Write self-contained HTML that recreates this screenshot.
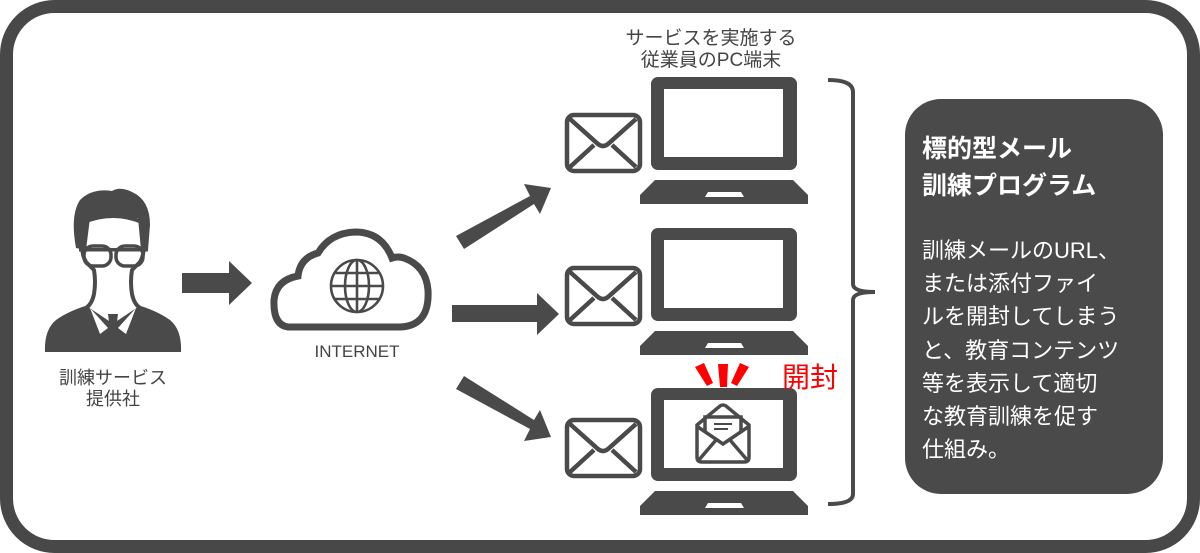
<!DOCTYPE html>
<html><head><meta charset="utf-8"><style>
html,body{margin:0;padding:0;background:#fff;}
svg{display:block;}
text{font-family:"Liberation Sans","Noto Sans CJK JP",sans-serif;}
</style></head><body>
<svg width="1200" height="553" viewBox="0 0 1200 553" xmlns="http://www.w3.org/2000/svg">
<rect x="6.5" y="6.5" width="1187" height="540" rx="48" fill="#fff" stroke="#484848" stroke-width="13"/>
<g fill="#4a4a4a">
<!-- person body -->
<path d="M45 352 Q44 330 56 320 Q70 310 92 304 L113 300 L134 304 Q156 310 170 320 Q182 330 181 352 Z"/>
<!-- face/neck white with outline -->
<path d="M84 238 Q80 252 86 262 L94 270 Q96 282 94 294 Q92 304 86 308 L113 326 L140 308 Q134 304 132 294 Q130 282 132 270 L140 262 Q146 252 142 238 L142 222 Q113 210 84 222 Z" fill="#fff" stroke="#4a4a4a" stroke-width="4" stroke-linejoin="round"/>
<!-- hair -->
<path d="M76 248 Q70 215 80 200 Q92 188 112 191 Q120 186 132 192 Q150 200 150 225 L148 250 L141 250 L138 218 L90 218 L86 250 Z"/>
<!-- glasses -->
<rect x="84" y="246" width="27" height="20" rx="9" fill="none" stroke="#4a4a4a" stroke-width="3.5"/>
<rect x="116" y="246" width="27" height="20" rx="9" fill="none" stroke="#4a4a4a" stroke-width="3.5"/>
<rect x="79" y="248" width="69" height="3.5"/>
<!-- collar + tie -->
<path d="M90 308 L108 328 L100 334 Z M136 308 L118 328 L126 334 Z" fill="#fff"/>
<path d="M108 314 L118 314 L117 322 L120 345 L113 352 L106 345 L109 322 Z"/>
<!-- arrow person->cloud -->
<path d="M182 273 L229 273 L229 261 L252 283 L229 305 L229 293 L182 293 Z"/>
<!-- cloud -->
<path d="M288 327 Q273 325 274 300 Q276 280 298 276 Q300 258 318 253 Q330 233 355 232 Q382 232 392 258 Q398 256 404 258 Q426 266 428 290 Q430 326 400 327 Z" fill="none" stroke="#4a4a4a" stroke-width="7"/>
<g fill="none" stroke="#4a4a4a" stroke-width="2.6">
<circle cx="357" cy="286" r="26"/>
<ellipse cx="357" cy="286" rx="12" ry="26"/>
<line x1="357" y1="260" x2="357" y2="312"/>
<line x1="331" y1="286" x2="383" y2="286"/>
<line x1="335" y1="273" x2="379" y2="273"/>
<line x1="335" y1="299" x2="379" y2="299"/>
</g>
<!-- arrows to laptops -->
<path d="M452 305 L537 305 L537 293 L559 314 L537 335 L537 322 L452 322 Z"/>
<path d="M456 236 L530 196 L524 184 L551 188 L540 214 L534 204 L464 249 Z"/>
<path d="M464 376 L534 420 L540 410 L551 437 L524 441 L530 429 L456 389 Z"/>
</g>
<!-- laptops -->
<g id="lap">
<rect x="651" y="77" width="146" height="93" rx="7" fill="#4a4a4a"/>
<rect x="664" y="89" width="119" height="68" fill="#fff"/>
<path d="M655 180 L793 180 L808 195 L808 204 L640 204 L640 195 Z" fill="#4a4a4a"/>
<path d="M708 192 L741 192 L744 197 L705 197 Z" fill="#fff"/>
</g>
<use href="#lap" y="151"/>
<use href="#lap" y="311"/>
<!-- envelopes -->
<g id="env" fill="none" stroke="#4a4a4a" stroke-width="4.5">
<rect x="567" y="115" width="73" height="56" rx="7"/>
<path d="M570 119 L598 144 Q603 148 608 144 L636 119 M570 167 L594 145 M636 167 L612 145"/>
</g>
<use href="#env" y="153"/>
<use href="#env" y="305"/>
<!-- open envelope in 3rd laptop -->
<g fill="none" stroke="#4a4a4a" stroke-width="3.5">
<path d="M697 425 L720 406 Q723 404 726 406 L749 425 L749 457 Q749 462 744 462 L702 462 Q697 462 697 457 Z"/>
<path d="M705 431 L705 417 L741 417 L741 431"/>
<path d="M698 427 L723 444 L748 427 M698 461 L716 440 M748 461 L730 440"/>
</g>
<path d="M714 424 L732 424 M714 429 L728 429" stroke="#4a4a4a" stroke-width="2"/>
<!-- red marks -->
<g fill="#f00">
<path d="M695 367 L704 363 L713 383 L707 386 Z"/>
<path d="M718 364 L728 364 L727 387 L720 387 Z"/>
<path d="M740 363 L749 367 L737 386 L731 383 Z"/>
</g>
<text x="782" y="387" font-size="28" fill="#f00">開封</text>
<!-- bracket -->
<path d="M828 80 Q853 80 853 92 L853 284 Q853 292 875 292 Q853 292 853 300 L853 494 Q853 504 828 504" fill="none" stroke="#4a4a4a" stroke-width="4"/>
<!-- labels -->
<g fill="#444" font-size="19" text-anchor="middle">
<text x="711" y="44">サービスを実施する</text>
<text x="711" y="66">従業員のPC端末</text>
<text x="357" y="357" font-size="17">INTERNET</text>
<text x="113" y="384" font-size="18">訓練サービス</text>
<text x="113" y="405" font-size="18">提供社</text>
</g>
<!-- dark box -->
<rect x="905" y="99" width="258" height="395" rx="36" fill="#4a4a4a"/>
<g fill="#fff">
<text x="922" y="157" font-size="25" font-weight="bold">標的型メール</text>
<text x="922" y="194" font-size="25" font-weight="bold">訓練プログラム</text>
<g font-size="22">
<text x="922" y="258">訓練メールのURL、</text>
<text x="922" y="291">または添付ファイ</text>
<text x="922" y="324">ルを開封してしまう</text>
<text x="922" y="358">と、教育コンテンツ</text>
<text x="922" y="391">等を表示して適切</text>
<text x="922" y="424">な教育訓練を促す</text>
<text x="922" y="457">仕組み。</text>
</g>
</g>
</svg>
</body></html>
